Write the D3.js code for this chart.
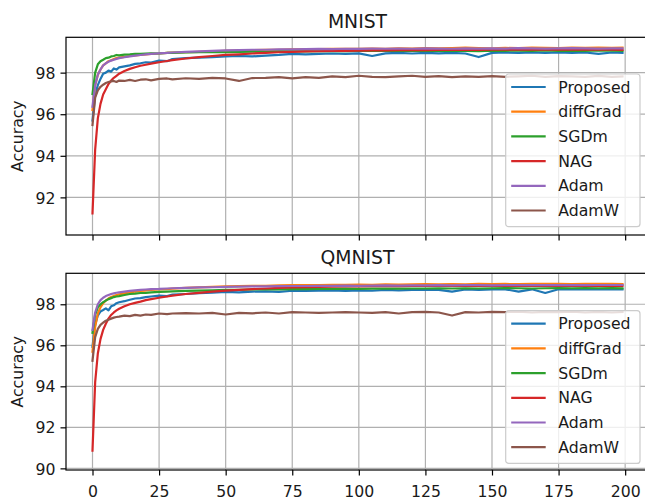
<!DOCTYPE html>
<html>
<head>
<meta charset="utf-8">
<script src="https://cdn.jsdelivr.net/npm/d3@7"></script>
<style>
  body { margin: 0; background: #fff; }
  text { font-family: "DejaVu Sans", sans-serif; fill: #1a1a1a; }
</style>
</head>
<body>
<div id="chart"></div>
<script>
var epochs = [0,1,2,3,4,5,6,7,8,9,10,
  12,14,16,18,20,22,25,28,
  30,35,40,45,50,55,60,65,70,75,
  80,85,90,95,100,105,110,115,120,125,
  130,135,140,145,150,155,160,165,170,175,
  180,185,190,195,199];

var seriesNames = ["Proposed", "diffGrad", "SGDm", "NAG", "Adam", "AdamW"];
var seriesColors = ["#1f77b4", "#ff7f0e", "#2ca02c", "#d62728", "#9467bd", "#8c564b"];
var xTicks = [0, 25, 50, 75, 100, 125, 150, 175, 200];

// MNIST
var mnistProposed = [
  95.7, 96.9, 97.4, 97.7, 97.95, 98.0, 98.1, 98.05, 98.2, 98.15, 98.25,
  98.3, 98.35, 98.42, 98.45, 98.5, 98.48, 98.58, 98.55,
  98.65, 98.7, 98.72, 98.75, 98.78, 98.8, 98.78, 98.82, 98.85, 98.9,
  98.88, 98.9, 98.92, 98.9, 98.93, 98.8, 98.93, 98.95, 98.92, 98.95,
  98.93, 98.95, 98.92, 98.75, 98.95, 98.97, 98.95, 98.97, 98.95, 98.97,
  98.95, 98.97, 98.9, 98.97, 98.95];
var mnistDiffGrad = [
  96.2, 97.4, 97.9, 98.15, 98.35, 98.45, 98.55, 98.6, 98.65, 98.7, 98.72,
  98.76, 98.8, 98.83, 98.85, 98.88, 98.9, 98.92, 98.95,
  98.96, 98.98, 99.0, 99.03, 99.05, 99.06, 99.08, 99.1, 99.1, 99.12,
  99.12, 99.13, 99.15, 99.14, 99.15, 99.16, 99.15, 99.17, 99.16, 99.18,
  99.17, 99.18, 99.2, 99.18, 99.17, 99.19, 99.18, 99.2, 99.19, 99.18,
  99.2, 99.19, 99.2, 99.19, 99.2];
var mnistSGDm = [
  96.97, 98.0, 98.4, 98.55, 98.62, 98.7, 98.72, 98.78, 98.8, 98.85, 98.83,
  98.87, 98.88, 98.9, 98.9, 98.92, 98.93, 98.92, 98.95,
  98.95, 98.97, 98.98, 99.0, 98.98, 99.0, 99.01, 99.0, 99.02, 99.03,
  99.02, 99.03, 99.04, 99.03, 99.05, 99.04, 99.05, 99.04, 99.06, 99.05,
  99.04, 99.06, 99.05, 99.03, 99.06, 99.05, 99.06, 99.05, 99.07, 99.05,
  99.06, 99.05, 99.07, 99.06, 99.05];
var mnistNAG = [
  91.23, 94.3, 95.8, 96.5, 96.95, 97.2, 97.45, 97.62, 97.75, 97.85, 97.95,
  98.08, 98.18, 98.26, 98.33, 98.38, 98.43, 98.5, 98.56,
  98.6, 98.68, 98.75, 98.8, 98.85, 98.88, 98.92, 98.95, 98.98, 99.0,
  99.02, 99.03, 99.05, 99.05, 99.06, 99.07, 99.07, 99.08, 99.08, 99.08,
  99.09, 99.09, 99.1, 99.09, 99.1, 99.1, 99.1, 99.1, 99.1, 99.11,
  99.1, 99.11, 99.1, 99.11, 99.1];
var mnistAdam = [
  96.36, 97.4, 97.9, 98.15, 98.35, 98.45, 98.52, 98.58, 98.62, 98.66, 98.7,
  98.74, 98.78, 98.82, 98.85, 98.88, 98.9, 98.93, 98.95,
  98.97, 99.0, 99.02, 99.05, 99.07, 99.08, 99.1, 99.1, 99.12, 99.12,
  99.13, 99.14, 99.13, 99.15, 99.14, 99.16, 99.15, 99.16, 99.15, 99.17,
  99.16, 99.15, 99.17, 99.16, 99.17, 99.16, 99.18, 99.17, 99.16, 99.17,
  99.18, 99.17, 99.16, 99.17, 99.17];
var mnistAdamW = [
  95.48, 96.8, 97.15, 97.32, 97.42, 97.5, 97.55, 97.58, 97.6, 97.55, 97.62,
  97.6, 97.65, 97.6, 97.66, 97.68, 97.63, 97.7, 97.72,
  97.68, 97.73, 97.7, 97.75, 97.72, 97.6, 97.74, 97.75, 97.78, 97.72,
  97.78, 97.75, 97.82, 97.78, 97.85, 97.8, 97.78, 97.82, 97.85, 97.8,
  97.83, 97.78, 97.82, 97.8, 97.83, 97.8, 97.82, 97.85, 97.8, 97.83,
  97.82, 97.8, 97.84, 97.8, 97.82];

// QMNIST
var qmnistProposed = [
  95.93, 97.0, 97.45, 97.65, 97.72, 97.8, 97.7, 97.9, 97.95, 98.05, 98.1,
  98.15, 98.22, 98.28, 98.3, 98.35, 98.38, 98.42, 98.4,
  98.47, 98.5, 98.54, 98.57, 98.6, 98.58, 98.62, 98.63, 98.6, 98.66,
  98.65, 98.67, 98.68, 98.65, 98.68, 98.66, 98.7, 98.68, 98.7, 98.71,
  98.7, 98.62, 98.72, 98.7, 98.72, 98.73, 98.62, 98.73, 98.55, 98.73,
  98.72, 98.74, 98.72, 98.74, 98.73];
var qmnistDiffGrad = [
  95.69, 96.9, 97.55, 97.85, 98.05, 98.18, 98.28, 98.35, 98.4, 98.45, 98.48,
  98.53, 98.58, 98.62, 98.65, 98.67, 98.7, 98.72, 98.74,
  98.76, 98.8, 98.82, 98.85, 98.87, 98.88, 98.9, 98.9, 98.92, 98.93,
  98.93, 98.94, 98.95, 98.95, 98.96, 98.95, 98.97, 98.96, 98.97, 98.98,
  98.97, 98.98, 98.97, 98.99, 98.98, 98.99, 98.98, 98.99, 99.0, 98.99,
  98.98, 99.0, 98.99, 99.0, 98.99];
var qmnistSGDm = [
  96.61, 97.5, 97.85, 98.0, 98.1, 98.18, 98.25, 98.3, 98.35, 98.38, 98.4,
  98.45, 98.5, 98.52, 98.55, 98.56, 98.58, 98.6, 98.62,
  98.63, 98.65, 98.67, 98.68, 98.7, 98.7, 98.72, 98.72, 98.73, 98.74,
  98.74, 98.75, 98.75, 98.76, 98.75, 98.76, 98.77, 98.76, 98.77, 98.77,
  98.78, 98.77, 98.78, 98.77, 98.78, 98.79, 98.78, 98.77, 98.78, 98.79,
  98.78, 98.79, 98.78, 98.79, 98.78];
var qmnistNAG = [
  90.86, 94.2, 95.6, 96.3, 96.75, 97.05, 97.3, 97.48, 97.6, 97.7, 97.78,
  97.9, 98.0, 98.07, 98.13, 98.2, 98.25, 98.32, 98.38,
  98.42, 98.5, 98.56, 98.62, 98.67, 98.7, 98.74, 98.77, 98.8, 98.82,
  98.84, 98.85, 98.86, 98.87, 98.87, 98.88, 98.88, 98.88, 98.89, 98.89,
  98.89, 98.89, 98.9, 98.89, 98.9, 98.9, 98.89, 98.9, 98.9, 98.9,
  98.9, 98.9, 98.89, 98.9, 98.9];
var qmnistAdam = [
  96.75, 97.6, 98.0, 98.2, 98.32, 98.4, 98.45, 98.5, 98.53, 98.56, 98.58,
  98.62, 98.65, 98.68, 98.7, 98.72, 98.74, 98.75, 98.77,
  98.78, 98.8, 98.82, 98.83, 98.85, 98.86, 98.87, 98.87, 98.88, 98.89,
  98.89, 98.9, 98.9, 98.91, 98.9, 98.91, 98.92, 98.91, 98.92, 98.92,
  98.93, 98.92, 98.93, 98.93, 98.92, 98.93, 98.94, 98.93, 98.94, 98.93,
  98.94, 98.93, 98.94, 98.94, 98.94];
var qmnistAdamW = [
  95.25, 96.4, 96.8, 97.0, 97.1, 97.2, 97.25, 97.3, 97.35, 97.38, 97.4,
  97.45, 97.42, 97.48, 97.45, 97.5, 97.48, 97.55, 97.52,
  97.55, 97.57, 97.55, 97.58, 97.5, 97.58, 97.56, 97.6, 97.55, 97.62,
  97.6, 97.58, 97.6, 97.62, 97.6, 97.58, 97.62, 97.55, 97.62, 97.63,
  97.6, 97.45, 97.62, 97.6, 97.63, 97.62, 97.64, 97.6, 97.63, 97.62,
  97.64, 97.6, 97.63, 97.6, 97.62];

var svgWidth = 645;
var svgHeight = 499;
var fontSize = 15.7;

var svg = d3.select("#chart")
  .append("svg")
  .attr("width", svgWidth)
  .attr("height", svgHeight);

// x range runs past the right edge of the picture (figure is cropped)
var xScale = d3.scaleLinear().domain([-9.95, 208.95]).range([66, 649]);

var panels = [
  { title: "MNIST", top: 37.3, bottom: 235, yDomain: [90.19, 99.70], yTicks: [92, 94, 96, 98],
    series: [mnistProposed, mnistDiffGrad, mnistSGDm, mnistNAG, mnistAdam, mnistAdamW],
    xLabels: false, legendTop: 74 },
  { title: "QMNIST", top: 273.3, bottom: 470, yDomain: [89.92, 99.51], yTicks: [90, 92, 94, 96, 98],
    series: [qmnistProposed, qmnistDiffGrad, qmnistSGDm, qmnistNAG, qmnistAdam, qmnistAdamW],
    xLabels: true, legendTop: 310.7 }
];

panels.forEach(function(p) {
  var yScale = d3.scaleLinear().domain(p.yDomain).range([p.bottom, p.top]);
  var g = svg.append("g");
  var left = xScale.range()[0], right = xScale.range()[1];

  // grid
  g.append("g").selectAll("line").data(xTicks).enter().append("line")
    .attr("x1", function(d) { return xScale(d); })
    .attr("x2", function(d) { return xScale(d); })
    .attr("y1", p.top).attr("y2", p.bottom)
    .attr("stroke", "#b0b0b0").attr("stroke-width", 1.2);
  g.append("g").selectAll("line").data(p.yTicks).enter().append("line")
    .attr("y1", function(d) { return yScale(d); })
    .attr("y2", function(d) { return yScale(d); })
    .attr("x1", left).attr("x2", right)
    .attr("stroke", "#b0b0b0").attr("stroke-width", 1.2);

  // curves
  var line = d3.line()
    .x(function(d, i) { return xScale(epochs[i]); })
    .y(function(d) { return yScale(d); });
  p.series.forEach(function(vals, k) {
    g.append("path")
      .datum(vals)
      .attr("d", line)
      .attr("fill", "none")
      .attr("stroke", seriesColors[k])
      .attr("stroke-width", 2.2)
      .attr("stroke-linejoin", "round")
      .attr("stroke-linecap", "square");
  });

  // frame
  g.append("rect")
    .attr("x", left).attr("y", p.top)
    .attr("width", right - left).attr("height", p.bottom - p.top)
    .attr("fill", "none").attr("stroke", "#000").attr("stroke-width", 1.2);

  // axes
  var leftAxis = d3.axisLeft(yScale).tickValues(p.yTicks)
    .tickSize(5.5).tickPadding(5).tickFormat(d3.format("d"));
  var yAxisG = g.append("g").attr("transform", "translate(" + left + ",0)").call(leftAxis);
  yAxisG.select(".domain").remove();
  yAxisG.selectAll("line").attr("stroke", "#000").attr("stroke-width", 1.2);
  yAxisG.selectAll("text").attr("font-size", fontSize).attr("font-family", "DejaVu Sans")
    .attr("fill", "#1a1a1a").attr("dy", "0.36em").attr("x", -10.5);

  var bottomAxis = d3.axisBottom(xScale).tickValues(xTicks)
    .tickSize(5.5).tickPadding(5)
    .tickFormat(p.xLabels ? d3.format("d") : "");
  var xAxisG = g.append("g").attr("transform", "translate(0," + p.bottom + ")").call(bottomAxis);
  xAxisG.select(".domain").remove();
  xAxisG.selectAll("line").attr("stroke", "#000").attr("stroke-width", 1.2);
  xAxisG.selectAll("text").attr("font-size", fontSize).attr("font-family", "DejaVu Sans")
    .attr("fill", "#1a1a1a").attr("dy", null).attr("y", 26.5);

  // title
  g.append("text")
    .attr("x", 357.5).attr("y", p.top - 9.4)
    .attr("text-anchor", "middle")
    .attr("font-size", 18.8)
    .text(p.title);

  // y label
  g.append("text")
    .attr("transform", "translate(23," + ((p.top + p.bottom) / 2) + ") rotate(-90)")
    .attr("text-anchor", "middle")
    .attr("font-size", fontSize)
    .text("Accuracy");

  // legend
  var lg = g.append("g").attr("transform", "translate(505.7," + p.legendTop + ")");
  lg.append("rect")
    .attr("width", 134.3).attr("height", 152.7)
    .attr("rx", 3).attr("ry", 3)
    .attr("fill", "#fff").attr("fill-opacity", 0.8)
    .attr("stroke", "#cccccc").attr("stroke-width", 1.2);
  seriesNames.forEach(function(name, k) {
    var cy = 13 + k * 24.7;
    lg.append("line")
      .attr("x1", 5.5).attr("x2", 40)
      .attr("y1", cy).attr("y2", cy)
      .attr("stroke", seriesColors[k]).attr("stroke-width", 2.2);
    lg.append("text")
      .attr("x", 52.6).attr("y", cy).attr("dy", "0.36em")
      .attr("font-size", fontSize)
      .text(name);
  });
});
</script>
</body>
</html>
